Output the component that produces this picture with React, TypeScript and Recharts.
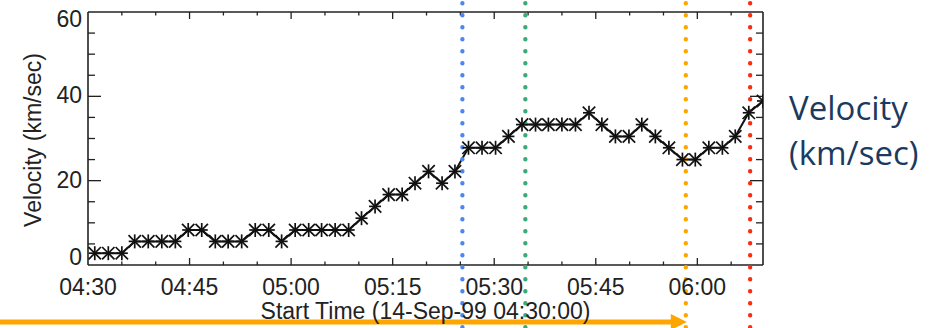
import React from 'react';
import { ComposedChart, Line, XAxis, YAxis, ReferenceLine } from 'recharts';

// ---- data (minutes after 04:30 on 14-Sep-99) ----
const minutes = [
  1.0, 3.0, 5.0, 6.9, 8.9, 10.9, 12.9, 14.8, 16.8, 18.8,
  20.7, 22.7, 24.7, 26.7, 28.6, 30.6, 32.6, 34.5, 36.5, 38.5,
  40.4, 42.4, 44.4, 46.4, 48.3, 50.3, 52.3, 54.2, 56.2, 58.2,
  60.2, 62.1, 64.1, 66.1, 68.0, 70.0, 72.0, 74.0, 75.9, 77.9,
  79.9, 81.8, 83.8, 85.8, 87.8, 89.7, 91.7, 93.7, 95.6, 97.6,
  99.7,
];
const velocity = [
  2.8, 2.8, 2.8, 5.6, 5.6, 5.6, 5.6, 8.3, 8.3, 5.6,
  5.6, 5.6, 8.3, 8.3, 5.6, 8.3, 8.3, 8.3, 8.3, 8.3,
  11.1, 13.9, 16.7, 16.7, 19.4, 22.2, 19.4, 22.2, 27.8, 27.8,
  27.8, 30.5, 33.3, 33.3, 33.3, 33.3, 33.3, 36.1, 33.3, 30.5,
  30.5, 33.3, 30.5, 27.8, 25.0, 25.0, 27.8, 27.8, 30.5, 36.1,
  38.9,
];
const xDomain = [0, 99.7];
const yDomain = [0, 60];
const xMajorTicks = [0, 15, 30, 45, 60, 75, 90];
const xTickLabels = ['04:30', '04:45', '05:00', '05:15', '05:30', '05:45', '06:00'];
const xMinorTicks = [5, 10, 20, 25, 35, 40, 50, 55, 65, 70, 80, 85, 95];
const yMajorTicks = [0, 20, 40, 60];
const yMinorTicks = [5, 10, 15, 25, 30, 35, 45, 50, 55];
const eventTimes = [55.3, 64.6, 88.3, 97.8];
const eventColors = ['#4a86f5', '#3aaa78', '#ffa500', '#ff2a10'];
const arrowEventIndex = 2;
const xTitle = 'Start Time (14-Sep-99 04:30:00)';
const yTitle = 'Velocity (km/sec)';
const sideTitle = ['Velocity', '(km/sec)'];

const data = minutes.map((t, i) => ({ t, v: velocity[i] }));

const CHART_W = 931;
const CHART_H = 328;
const FONT = '"Liberation Sans", Arial, Helvetica, sans-serif';
const INK = '#222';

const XTick = (props: any) => {
  const { x, y, payload } = props;
  const idx = xMajorTicks.indexOf(payload.value);
  return (
    <text x={x} y={y + 30} textAnchor="middle" fontSize={23} fill={INK} fontFamily={FONT}>
      {xTickLabels[idx]}
    </text>
  );
};

const YTick = (props: any) => {
  const { x, y, payload } = props;
  const v = payload.value;
  let dy = 7;
  if (v === yMajorTicks[0]) dy = 0;
  if (v === yMajorTicks[yMajorTicks.length - 1]) dy = 15;
  return (
    <text x={x - 6} y={y + dy} textAnchor="end" fontSize={23} fill={INK} fontFamily={FONT}>
      {v}
    </text>
  );
};

const Asterisk = (props: any) => {
  const { cx, cy } = props;
  if (cx == null || cy == null) return <g />;
  const r = 7;
  const dx = 6.2;
  const dyy = 6.2;
  return (
    <g stroke="#111" strokeWidth={1.7}>
      <line x1={cx} y1={cy - r} x2={cx} y2={cy + r} />
      <line x1={cx - dx} y1={cy - dyy} x2={cx + dx} y2={cy + dyy} />
      <line x1={cx - dx} y1={cy + dyy} x2={cx + dx} y2={cy - dyy} />
      <line x1={cx - 6} y1={cy} x2={cx + 6} y2={cy} />
    </g>
  );
};

const xTickShape = (len: number) => (p: any) => {
  const top = Math.min(p.y1, p.y2);
  const bot = Math.max(p.y1, p.y2);
  return (
    <g stroke={INK} strokeWidth={1.3}>
      <line x1={p.x1} y1={bot} x2={p.x1} y2={bot - len} />
      <line x1={p.x1} y1={top} x2={p.x1} y2={top + len} />
    </g>
  );
};

const yTickShape = (len: number) => (p: any) => {
  const left = Math.min(p.x1, p.x2);
  const right = Math.max(p.x1, p.x2);
  return (
    <g stroke={INK} strokeWidth={1.3}>
      <line x1={left} y1={p.y1} x2={left + len} y2={p.y1} />
      <line x1={right} y1={p.y1} x2={right - len} y2={p.y1} />
    </g>
  );
};

const eventShape = (color: string, withArrow: boolean) => (p: any) => {
  const x = p.x1;
  const ay = CHART_H - 6;
  return (
    <g>
      {withArrow && (
        <g>
          <line x1={0} y1={ay} x2={x - 12} y2={ay} stroke={color} strokeWidth={5} />
          <polygon points={`${x + 1},${ay} ${x - 15},${ay - 8} ${x - 15},${ay + 8}`} fill={color} />
        </g>
      )}
      <line
        x1={x}
        y1={3.3}
        x2={x}
        y2={CHART_H}
        stroke={color}
        strokeWidth={4.4}
        strokeLinecap="round"
        strokeDasharray="0 12"
      />
    </g>
  );
};

export default function App() {
  return (
    <div style={{ position: 'absolute', left: 0, top: 0, width: CHART_W, height: CHART_H, background: '#fff' }}>
      <ComposedChart
        width={CHART_W}
        height={CHART_H}
        data={data}
        margin={{ top: 12, right: 168, bottom: 0, left: 0 }}
      >
        <XAxis
          dataKey="t"
          type="number"
          domain={xDomain}
          ticks={xMajorTicks}
          interval={0}
          allowDataOverflow
          height={63}
          axisLine={false}
          tickLine={false}
          tickSize={0}
          tickMargin={0}
          tick={<XTick />}
          label={{
            content: (lp: any) => {
              const vb = lp.viewBox || { x: 88, y: 265, width: 675, height: 63 };
              return (
                <text
                  x={vb.x + vb.width / 2}
                  y={vb.y + 54}
                  textAnchor="middle"
                  fontSize={23}
                  fill={INK}
                  fontFamily={FONT}
                >
                  {xTitle}
                </text>
              );
            },
          }}
        />
        <YAxis
          type="number"
          domain={yDomain}
          ticks={yMajorTicks}
          interval={0}
          width={88}
          axisLine={false}
          tickLine={false}
          tickSize={0}
          tickMargin={0}
          tick={<YTick />}
          label={{
            content: (lp: any) => {
              const vb = lp.viewBox || { x: 0, y: 12, width: 88, height: 253 };
              const cx = vb.x + 41;
              const cy = vb.y + vb.height / 2 + 1.5;
              return (
                <text
                  x={cx}
                  y={cy}
                  transform={`rotate(-90, ${cx}, ${cy})`}
                  textAnchor="middle"
                  fontSize={23}
                  fill={INK}
                  fontFamily={FONT}
                >
                  {yTitle}
                </text>
              );
            },
          }}
        />

        {xMajorTicks.slice(1).map((t) => (
          <ReferenceLine key={`xM${t}`} x={t} shape={xTickShape(7)} />
        ))}
        {xMinorTicks.map((t) => (
          <ReferenceLine key={`xm${t}`} x={t} shape={xTickShape(3.5)} />
        ))}
        {yMajorTicks.slice(1, -1).map((t) => (
          <ReferenceLine key={`yM${t}`} y={t} shape={yTickShape(13)} />
        ))}
        {yMinorTicks.map((t) => (
          <ReferenceLine key={`ym${t}`} y={t} shape={yTickShape(7)} />
        ))}

        <ReferenceLine x={xDomain[0]} stroke={INK} strokeWidth={1.6} />
        <ReferenceLine x={xDomain[1]} stroke={INK} strokeWidth={1.6} />
        <ReferenceLine y={yDomain[0]} stroke={INK} strokeWidth={1.6} />
        <ReferenceLine y={yDomain[1]} stroke={INK} strokeWidth={1.6} />

        <Line
          dataKey="v"
          type="linear"
          stroke="#111"
          strokeWidth={2}
          dot={(p: any) => <Asterisk key={`d${p.index}`} {...p} />}
          activeDot={false}
          isAnimationActive={false}
        />

        {eventTimes.map((t, i) => (
          <ReferenceLine
            key={`ev${i}`}
            x={t}
            shape={eventShape(eventColors[i], i === arrowEventIndex)}
          />
        ))}
      </ComposedChart>
      <div
        style={{
          position: 'absolute',
          left: 789,
          top: 85,
          fontFamily: '"Open Sans", sans-serif',
          fontSize: 33,
          lineHeight: '45px',
          color: '#1b3a5e',
          whiteSpace: 'nowrap',
        }}
      >
        <div>{sideTitle[0]}</div>
        <div>{sideTitle[1]}</div>
      </div>
    </div>
  );
}
